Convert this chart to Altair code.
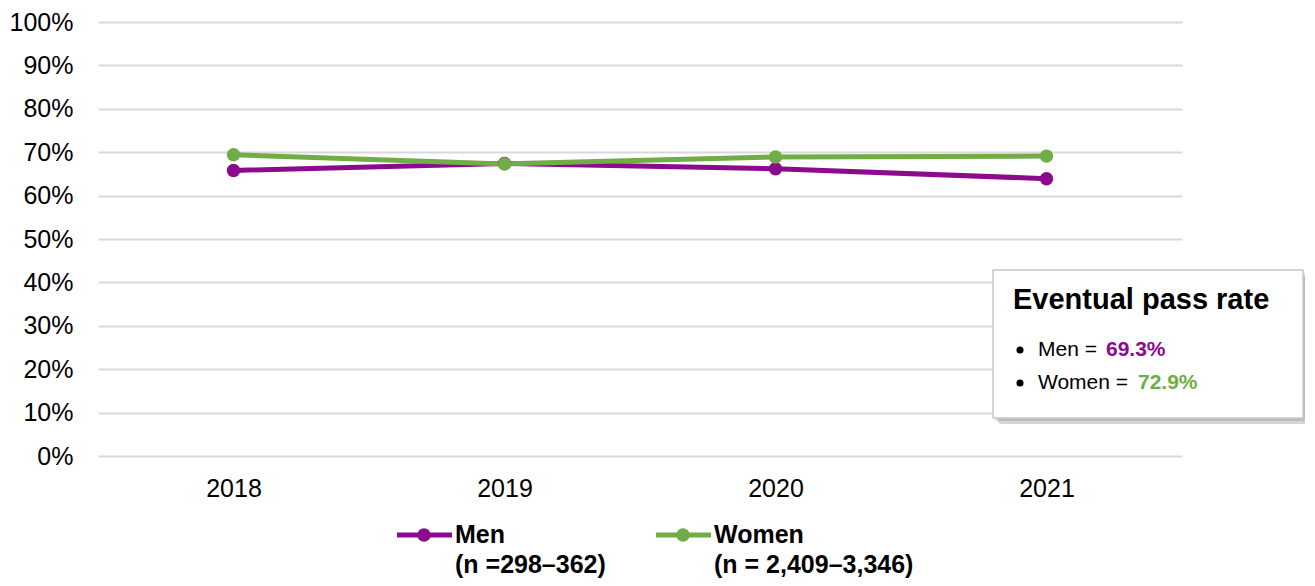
import altair as alt
import pandas as pd

years = ["2018", "2019", "2020", "2021"]
men = [65.8, 67.4, 66.2, 63.9]
women = [69.4, 67.3, 68.9, 69.1]
series = ["Men", "Women"]
series_n = ["(n =298–362)", "(n = 2,409–3,346)"]
colors = ["#8B0A8E", "#70AD47"]
box_title = "Eventual pass rate"
box_labels = ["Men =", "Women ="]
box_values = ["69.3%", "72.9%"]

W, H = 1084, 434
FONT = "Liberation Sans"

rows = []
for y, m in zip(years, men):
    rows.append({"year": y, "series": "Men", "value": m})
for y, w in zip(years, women):
    rows.append({"year": y, "series": "Women", "value": w})
df = pd.DataFrame(rows)

color = alt.Color("series:N", scale=alt.Scale(domain=series, range=colors), legend=None)

lines = alt.Chart(df).mark_line(
    strokeWidth=5,
    point=alt.OverlayMarkDef(filled=True, size=180, opacity=1),
).encode(
    x=alt.X("year:O", scale=alt.Scale(type="point", padding=0.5),
            axis=alt.Axis(title=None, labelAngle=0, domain=False, ticks=False, grid=False,
                          labelFontSize=25, labelColor="#000000", labelPadding=20,
                          labelFont=FONT)),
    y=alt.Y("value:Q", scale=alt.Scale(domain=[0, 100], nice=False),
            axis=alt.Axis(title=None, values=list(range(0, 101, 10)),
                          labelExpr="datum.value + '%'", domain=False, ticks=False,
                          grid=True, gridColor="#d9d9d9", gridWidth=2,
                          labelFontSize=25, labelColor="#000000", labelPadding=25,
                          labelFont=FONT)),
    color=color,
    order=alt.Order("series:N"),
)

# bottom legend (custom)
leg_x = [299, 558]
leg = pd.DataFrame({
    "series": series,
    "x1": leg_x,
    "x2": [v + 55 for v in leg_x],
    "xc": [v + 27 for v in leg_x],
    "xt": [v + 58 for v in leg_x],
    "y": [513, 513],
    "y2": [543, 543],
    "n": series_n,
})
leg_line = alt.Chart(leg).mark_rule(strokeWidth=5).encode(
    x=alt.X("x1:Q", scale=None), x2="x2:Q", y=alt.Y("y:Q", scale=None),
    color=color)
leg_pt = alt.Chart(leg).mark_point(filled=True, size=180, opacity=1).encode(
    x=alt.X("xc:Q", scale=None), y=alt.Y("y:Q", scale=None), color=color)
leg_t1 = alt.Chart(leg).mark_text(align="left", baseline="middle", fontSize=25,
                                  fontWeight="bold", font=FONT, color="#000000").encode(
    x=alt.X("xt:Q", scale=None), y=alt.Y("y:Q", scale=None), text="series:N")
leg_t2 = alt.Chart(leg).mark_text(align="left", baseline="middle", fontSize=25,
                                  fontWeight="bold", font=FONT, color="#000000").encode(
    x=alt.X("xt:Q", scale=None), y=alt.Y("y2:Q", scale=None), text="n:N")

# annotation box
bx1, bx2, by1, by2 = 895, 1205, 248, 396
shadow = alt.Chart(pd.DataFrame({"a": [0]})).mark_rect(
    fill="#000000", opacity=0.16, cornerRadius=3).encode(
    x=alt.value(bx1 + 5), x2=alt.value(bx2 + 5), y=alt.value(by1 + 6), y2=alt.value(by2 + 6))
shadow2 = alt.Chart(pd.DataFrame({"a": [0]})).mark_rect(
    fill="#000000", opacity=0.12).encode(
    x=alt.value(bx1 + 2), x2=alt.value(bx2 + 3), y=alt.value(by1 + 3), y2=alt.value(by2 + 3))
box = alt.Chart(pd.DataFrame({"a": [0]})).mark_rect(
    fill="#ffffff", stroke="#c8c8c8", strokeWidth=1.5).encode(
    x=alt.value(bx1), x2=alt.value(bx2), y=alt.value(by1), y2=alt.value(by2))
title_t = alt.Chart(pd.DataFrame({"t": [box_title]})).mark_text(
    align="left", baseline="middle", fontSize=29, fontWeight="bold", font=FONT,
    color="#000000").encode(x=alt.value(915), y=alt.value(278), text="t:N")

bdf = pd.DataFrame({
    "series": series,
    "label": box_labels,
    "val": box_values,
    "y": [328, 361],
    "xb": [922, 922],
    "xl": [940, 940],
    "xv": [1008, 1040],
})
bullets = alt.Chart(bdf).mark_point(filled=True, size=50, color="#000000", opacity=1).encode(
    x=alt.X("xb:Q", scale=None), y=alt.Y("y:Q", scale=None))
blab = alt.Chart(bdf).mark_text(align="left", baseline="middle", fontSize=21,
                                font=FONT, color="#000000").encode(
    x=alt.X("xl:Q", scale=None), y=alt.Y("y:Q", scale=None), text="label:N")
bval = alt.Chart(bdf).mark_text(align="left", baseline="middle", fontSize=21,
                                font=FONT, fontWeight="bold").encode(
    x=alt.X("xv:Q", scale=None), y=alt.Y("y:Q", scale=None), text="val:N", color=color)

chart = alt.layer(
    lines, leg_line, leg_pt, leg_t1, leg_t2,
    shadow, shadow2, box, title_t, bullets, blab, bval,
).properties(
    width=W, height=H,
    autosize=alt.AutoSizeParams(type="none"),
    padding={"left": 90, "top": 14, "right": 123, "bottom": 126},
).configure(font=FONT).configure_view(stroke="transparent", strokeWidth=0)

chart.save("out.html", embed_options={"renderer": "svg", "actions": False})
